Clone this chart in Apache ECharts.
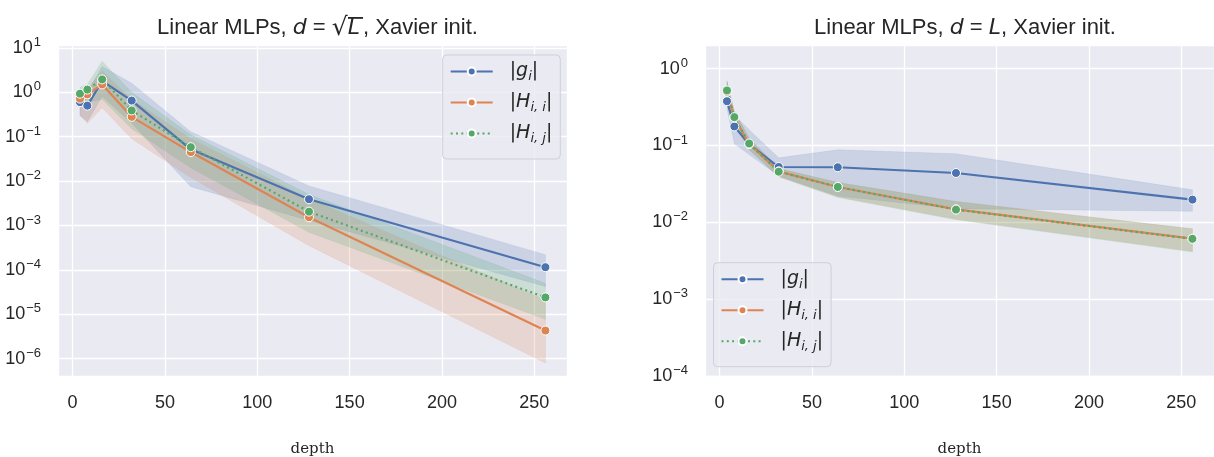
<!DOCTYPE html>
<html>
<head>
<meta charset="utf-8">
<script src="https://cdn.jsdelivr.net/npm/echarts@6/dist/echarts.min.js"></script>
<style>
  html, body { margin: 0; padding: 0; background: #fff; }
  #chart { width: 1214px; height: 457px; }
</style>
</head>
<body>
<div id="chart"></div>
<script>
// Network depths L on the x axis
const depths = [4, 8, 16, 32, 64, 128, 256];

// Width d = sqrt(L): means and band edges
const sqrtGrad     = [0.6, 0.5, 1.8, 0.65, 0.052, 0.0039, 1.15e-4];
const sqrtGradLo   = [0.3, 0.22, 0.8, 0.2, 0.0075, 1.3e-3, 4.2e-5];
const sqrtGradHi   = [1.2, 1.0, 3.8, 1.6, 0.13, 0.0078, 2.2e-4];
const sqrtHdiag    = [0.72, 0.9, 1.5, 0.28, 0.045, 0.00153, 4.3e-6];
const sqrtHdiagLo  = [0.3, 0.2, 0.45, 0.09, 0.012, 3.5e-4, 8e-7];
const sqrtHdiagHi  = [1.0, 1.2, 3.0, 0.7, 0.09, 0.004, 2.1e-5];
const sqrtHoff     = [0.93, 1.15, 1.95, 0.39, 0.058, 0.00205, 2.4e-5];
const sqrtHoffLo   = [0.5, 0.6, 0.7, 0.15, 0.02, 7e-4, 7.7e-6];
const sqrtHoffHi   = [1.3, 1.5, 5.0, 1.0, 0.11, 0.005, 5e-5];

// Width d = L: means and band edges
const linGrad      = [0.377, 0.177, 0.104, 0.0524, 0.052, 0.0438, 0.0197];
const linGradLo    = [0.3, 0.105, 0.076, 0.04, 0.022, 0.015, 0.0139];
const linGradHi    = [0.7, 0.25, 0.16, 0.069, 0.088, 0.078, 0.0264];
const linHdiag     = [0.5, 0.23, 0.105, 0.046, 0.0288, 0.0147, 0.0061];
const linHdiagLo   = [0.38, 0.19, 0.088, 0.039, 0.0215, 0.011, 0.0042];
const linHdiagHi   = [0.66, 0.28, 0.125, 0.05, 0.033, 0.0187, 0.0082];
const linHoff      = [0.52, 0.234, 0.106, 0.0455, 0.0288, 0.0146, 0.00608];
const linHoffLo    = [0.38, 0.19, 0.088, 0.039, 0.021, 0.0108, 0.0041];
const linHoffHi    = [0.68, 0.28, 0.125, 0.05, 0.033, 0.0185, 0.0082];

const seriesNames = ['g', 'Hii', 'Hij'];
const legendLabels = {
  g:   '{n||}{i|g}{sub|i}{n||}',
  Hii: '{n||}{i|H}{sub|i, i}{n||}',
  Hij: '{n||}{i|H}{sub|i, j}{n||}'
};

const BLUE = '#4c72b0', ORANGE = '#dd8452', GREEN = '#55a868';
const INK = '#262626';
const SANS = 'Liberation Sans';
const MATH = 'DejaVu Sans';

function rgba(hex, a) {
  const n = parseInt(hex.slice(1), 16);
  return 'rgba(' + (n >> 16) + ',' + ((n >> 8) & 255) + ',' + (n & 255) + ',' + a + ')';
}

function lineSeries(name, vals, color, idx, dotted) {
  return {
    type: 'line', name: name, xAxisIndex: idx, yAxisIndex: idx,
    data: depths.map((d, i) => [d, vals[i]]),
    symbol: 'circle', symbolSize: 9, showSymbol: true,
    lineStyle: { color: color, width: 2.2, type: dotted ? [2, 3.3] : 'solid' },
    itemStyle: { color: color, borderColor: '#fff', borderWidth: 1 },
    z: 5, animation: false, emphasis: { disabled: true }
  };
}

function bandSeries(lo, hi, color, idx) {
  return {
    type: 'custom', xAxisIndex: idx, yAxisIndex: idx, silent: true, z: 2,
    animation: false,
    data: [[depths[0], lo[0]]],
    renderItem: function (params, api) {
      const pts = [];
      for (let i = 0; i < depths.length; i++) pts.push(api.coord([depths[i], hi[i]]));
      for (let i = depths.length - 1; i >= 0; i--) pts.push(api.coord([depths[i], lo[i]]));
      return {
        type: 'polygon', shape: { points: pts },
        style: { fill: rgba(color, 0.2), stroke: rgba(color, 0.12), lineWidth: 0.8 }
      };
    }
  };
}

function powLabel(v) {
  const l = Math.log10(v);
  const e = Math.round(l);
  if (Math.abs(l - e) > 1e-6) return '';
  const s = e < 0 ? '\u2212' + (-e) : String(e);
  return '{b|10}{s|' + s + '}';
}

function xAxis(idx) {
  return {
    type: 'value', gridIndex: idx, min: -7.9, max: 267.7,
    axisLine: { show: false }, axisTick: { show: false },
    splitLine: { show: true, lineStyle: { color: '#ffffff', width: 1.3 } },
    axisLabel: {
      margin: 18, fontSize: 18, color: INK, fontFamily: SANS,
      formatter: v => (Math.abs(v - Math.round(v)) < 1e-9 ? String(v) : '')
    },
    name: 'depth', nameLocation: 'middle', nameGap: 66,
    nameTextStyle: { fontFamily: 'DejaVu Serif', fontSize: 15, color: INK }
  };
}

function yAxis(idx, min, max) {
  return {
    type: 'log', logBase: 10, gridIndex: idx, min: min, max: max,
    axisLine: { show: false }, axisTick: { show: false },
    splitLine: { show: true, lineStyle: { color: '#ffffff', width: 1.3 } },
    minorTick: { show: false }, minorSplitLine: { show: false },
    axisLabel: {
      margin: 17, formatter: powLabel,
      rich: {
        b: { fontSize: 18, fontFamily: SANS, color: INK },
        s: { fontSize: 13, fontFamily: SANS, color: INK, padding: [0, 0, 11, 1] }
      }
    }
  };
}

// thin bar drawn above the radicand in the title
const overline = document.createElement('canvas');
overline.width = 8; overline.height = 40;
(function () {
  const cx = overline.getContext('2d');
  cx.fillStyle = INK;
  cx.fillRect(0, 0, 8, 3);
})();

const titleRich = {
  n: { fontSize: 22, fontFamily: SANS, fontWeight: 'normal', color: INK, lineHeight: 30 },
  i: { fontSize: 22, fontFamily: MATH, fontStyle: 'italic', fontWeight: 'normal', color: INK, lineHeight: 30 },
  r: { fontSize: 25, fontFamily: MATH, fontWeight: 'normal', color: INK, lineHeight: 30 },
  o: { fontSize: 22, fontFamily: MATH, fontStyle: 'italic', fontWeight: 'normal', color: INK, lineHeight: 27,
       backgroundColor: { image: overline }, padding: [0, 3, 0, 0] }
};

function legend(left, top) {
  return {
    data: seriesNames, orient: 'vertical', left: left, top: top,
    itemWidth: 42, itemHeight: 10, itemGap: 10,
    padding: [7, 8, 14, 7],
    backgroundColor: 'rgba(234,234,242,0.8)',
    borderColor: '#cfcfd8', borderWidth: 1, borderRadius: 4,
    selectedMode: false,
    formatter: n => legendLabels[n],
    textStyle: {
      padding: [0, 0, 0, 12],
      rich: {
        n: { fontSize: 19, fontFamily: MATH, color: INK, lineHeight: 22 },
        i: { fontSize: 19, fontFamily: MATH, fontStyle: 'italic', color: INK, lineHeight: 22 },
        sub: { fontSize: 13, fontFamily: MATH, fontStyle: 'italic', color: INK, padding: [10, 0, 0, 0] }
      }
    }
  };
}

function grid(left) {
  return {
    left: left, top: 45, width: 509, height: 331,
    containLabel: false, outerBoundsMode: 'none',
    show: true, backgroundColor: '#eaeaf2', borderWidth: 0
  };
}

const chart = echarts.init(document.getElementById('chart'), null, { renderer: 'canvas' });
chart.setOption({
  animation: false,
  backgroundColor: '#ffffff',
  title: [
    { text: '{n|Linear MLPs, }{i|d}{n| = }{r|\u221a}{o|L}{n|, Xavier init.}',
      left: 312.5, top: 8, textAlign: 'center',
      textStyle: { fontWeight: 'normal', rich: titleRich } },
    { text: '{n|Linear MLPs, }{i|d}{n| = }{i|L}{n|, Xavier init.}',
      left: 960, top: 8, textAlign: 'center',
      textStyle: { fontWeight: 'normal', rich: titleRich } }
  ],
  grid: [grid(58), grid(705)],
  xAxis: [xAxis(0), xAxis(1)],
  yAxis: [yAxis(0, Math.pow(10, -6.39), Math.pow(10, 1.065)),
          yAxis(1, Math.pow(10, -4.003), Math.pow(10, 0.3086))],
  legend: [legend(442.7, 55), legend(713.5, 262.7)],
  series: [
    bandSeries(sqrtGradLo, sqrtGradHi, BLUE, 0),
    bandSeries(sqrtHdiagLo, sqrtHdiagHi, ORANGE, 0),
    bandSeries(sqrtHoffLo, sqrtHoffHi, GREEN, 0),
    lineSeries('g', sqrtGrad, BLUE, 0, false),
    lineSeries('Hii', sqrtHdiag, ORANGE, 0, false),
    lineSeries('Hij', sqrtHoff, GREEN, 0, true),
    bandSeries(linGradLo, linGradHi, BLUE, 1),
    bandSeries(linHdiagLo, linHdiagHi, ORANGE, 1),
    bandSeries(linHoffLo, linHoffHi, GREEN, 1),
    lineSeries('g', linGrad, BLUE, 1, false),
    lineSeries('Hii', linHdiag, ORANGE, 1, false),
    lineSeries('Hij', linHoff, GREEN, 1, true)
  ]
});
</script>
</body>
</html>
